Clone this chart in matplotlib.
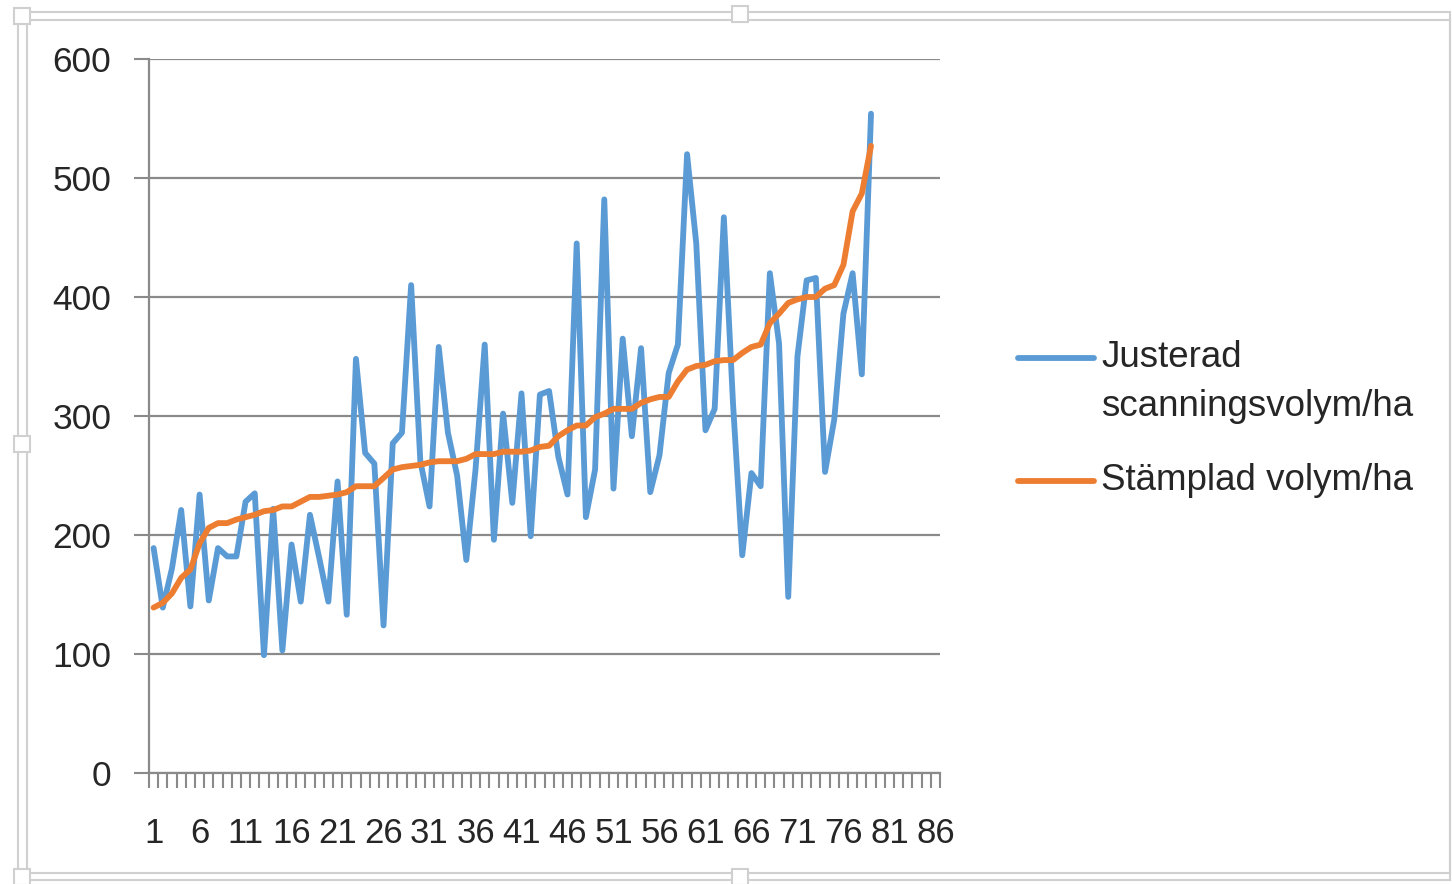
import matplotlib
matplotlib.use("Agg")
import matplotlib.pyplot as plt
from matplotlib.lines import Line2D
from matplotlib.patches import Rectangle
import numpy as np

categories = list(range(1, 80))
justerad = [189, 139, 172, 221, 140, 234, 145, 189, 182, 182,
            228, 235, 99, 222, 103, 192, 144, 217, 181, 144,
            245, 133, 348, 269, 260, 124, 277, 286, 410, 262,
            224, 358, 286, 250, 179, 255, 360, 196, 302, 227,
            319, 199, 318, 321, 266, 234, 445, 215, 255, 482,
            239, 365, 283, 357, 236, 267, 336, 360, 520, 445,
            288, 306, 467, 310, 183, 252, 241, 420, 361, 148,
            350, 414, 416, 253, 297, 386, 420, 335, 554]
stamplad = [139, 143, 151, 164, 171, 193, 206, 210, 210, 213,
            215, 217, 220, 221, 224, 224, 228, 232, 232, 233,
            234, 236, 241, 241, 241, 248, 255, 257, 258, 259,
            261, 262, 262, 262, 264, 268, 268, 268, 270, 270,
            270, 271, 274, 275, 283, 288, 292, 292, 299, 302,
            306, 306, 306, 311, 314, 316, 316, 329, 339, 342,
            343, 346, 347, 347, 353, 358, 360, 378, 386, 395,
            398, 400, 400, 407, 410, 427, 472, 487, 527]
n_categories = 86
x_labels = list(range(1, n_categories + 1, 5))
y_ticks = [0, 100, 200, 300, 400, 500, 600]
series_names = ["Justerad\nscanningsvolym/ha", "Stämplad volym/ha"]

BLUE = "#5B9BD5"
ORANGE = "#ED7D31"
GRID = "#8A8A8A"
TEXT = "#262626"
FONT = "Liberation Sans"

W, H = 1452, 884
fig = plt.figure(figsize=(W / 100, H / 100), dpi=100)
ax = fig.add_axes([149 / W, 1 - 773 / H, (940 - 149) / W, (773 - 59) / H])

ax.plot(categories, justerad, color=BLUE, lw=4.2, solid_joinstyle="round", solid_capstyle="round", zorder=3)
ax.plot(categories, stamplad, color=ORANGE, lw=4.2, solid_joinstyle="round", solid_capstyle="round", zorder=4)

ax.set_xlim(0.5, n_categories + 0.5)
ax.set_ylim(0, 600)
ax.set_yticks(y_ticks)
ax.set_yticklabels([str(v) for v in y_ticks], fontfamily=FONT, fontsize=25.5, color=TEXT)
ax.set_xticks(x_labels)
ax.set_xticklabels([str(v) for v in x_labels], fontfamily=FONT, fontsize=25, color=TEXT)
ax.set_xticks(np.arange(0.5, n_categories + 1, 1.0), minor=True)
ax.tick_params(axis="x", which="major", length=0, pad=32)
ax.tick_params(axis="x", which="minor", length=11, width=1.5, color=GRID, direction="out")
ax.tick_params(axis="y", which="major", length=11, width=1.5, color=GRID, direction="out", pad=16)

ax.grid(axis="y", color=GRID, lw=1.6, zorder=1)
for s in ["top", "right"]:
    ax.spines[s].set_visible(False)
for s in ["left", "bottom"]:
    ax.spines[s].set_color(GRID)
    ax.spines[s].set_linewidth(1.6)

# legend drawn manually
def fx(px):
    return px / W

def fy(py):
    return 1 - py / H

fig.add_artist(Line2D([fx(1018), fx(1094)], [fy(358), fy(358)], color=BLUE, lw=4.2, solid_capstyle="round"))
fig.add_artist(Line2D([fx(1018), fx(1094)], [fy(481), fy(481)], color=ORANGE, lw=4.2, solid_capstyle="round"))
fig.text(fx(1101), fy(340), series_names[0], fontfamily=FONT, fontsize=26.5, color=TEXT,
         va="top", ha="left", linespacing=1.5)
fig.text(fx(1101), fy(481), series_names[1], fontfamily=FONT, fontsize=26.5, color=TEXT,
         va="center", ha="left")

# chart frame (selection outline with handles)
FRAME = "#D0D0D0"
fig.add_artist(Rectangle((fx(18), fy(880)), fx(1450) - fx(18), fy(12) - fy(880),
                         fill=False, edgecolor=FRAME, lw=1.5))
fig.add_artist(Rectangle((fx(27), fy(873)), fx(1450) - fx(27), fy(20) - fy(873),
                         fill=False, edgecolor=FRAME, lw=1.5))
for (hx, hy) in [(22, 16), (740, 14), (22, 444), (740, 877), (22, 877)]:
    fig.add_artist(Rectangle((fx(hx - 8), fy(hy + 8)), 16 / W, 16 / H,
                             facecolor="white", edgecolor=FRAME, lw=1.5))

fig.savefig("out.png", dpi=100)
